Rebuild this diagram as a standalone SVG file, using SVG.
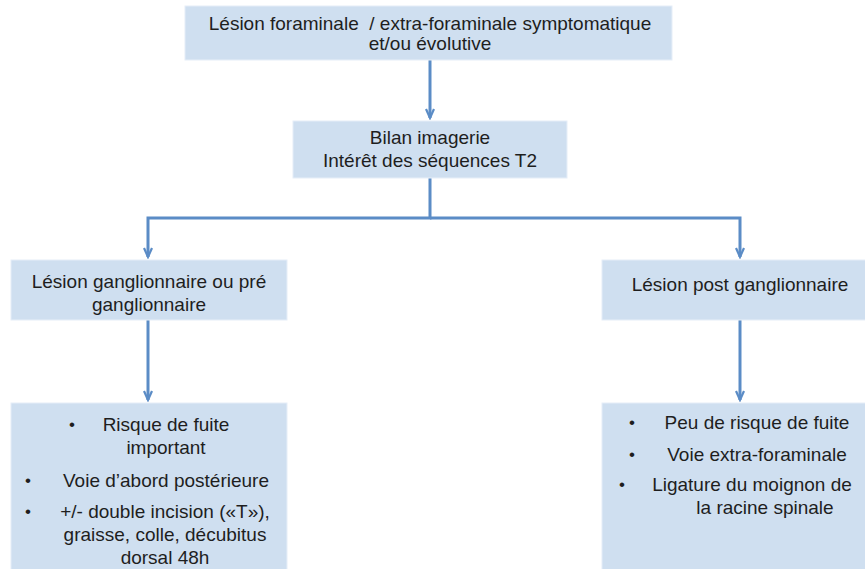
<svg xmlns="http://www.w3.org/2000/svg" width="865" height="569" viewBox="0 0 865 569">
<defs>
<style>
.box{fill:#cfdff0;stroke:#e6eef8;stroke-width:1}
.t{font-family:"Liberation Sans",Arial,sans-serif;font-size:19px;fill:#1e1e1e;text-anchor:middle;white-space:pre}
.b{font-family:"Liberation Sans",Arial,sans-serif;font-size:17px;fill:#1e1e1e;text-anchor:middle}
.c{fill:none;stroke:#5b8cc6;stroke-width:3}
</style>
<marker id="ah" viewBox="0 0 12 10" refX="10" refY="5" markerWidth="12" markerHeight="10" markerUnits="userSpaceOnUse" orient="auto">
<path d="M1,1 L10,5 L1,9" fill="none" stroke="#5b8cc6" stroke-width="2.2"/>
</marker>
</defs>
<rect width="865" height="569" fill="#ffffff"/>
<g id="connectors">
<path class="c" d="M430,60 V118" marker-end="url(#ah)"/>
<path class="c" d="M430,178 V218 H148 V257" marker-end="url(#ah)"/>
<path class="c" d="M430,218 H740 V257" marker-end="url(#ah)"/>
<path class="c" d="M148,320 V400" marker-end="url(#ah)"/>
<path class="c" d="M740,320 V400" marker-end="url(#ah)"/>
</g>
<g id="n1">
<rect class="box" x="185" y="6" width="487" height="54"/>
<text class="t" x="430" y="30">Lésion foraminale  / extra-foraminale symptomatique</text>
<text class="t" x="430" y="50">et/ou évolutive</text>
</g>
<g id="n2">
<rect class="box" x="293" y="121" width="274" height="57"/>
<text class="t" x="430" y="144">Bilan imagerie</text>
<text class="t" x="430" y="167">Intérêt des séquences T2</text>
</g>
<g id="n3">
<rect class="box" x="11" y="260" width="276" height="60"/>
<text class="t" x="149" y="288">Lésion ganglionnaire ou pré</text>
<text class="t" x="149" y="311">ganglionnaire</text>
</g>
<g id="n4">
<rect class="box" x="602" y="260" width="270" height="60"/>
<text class="t" x="740" y="291">Lésion post ganglionnaire</text>
</g>
<g id="n5">
<rect class="box" x="11" y="403" width="276" height="180"/>
<text class="b" x="72" y="430">•</text>
<text class="t" x="166" y="431">Risque de fuite</text>
<text class="t" x="166" y="454">important</text>
<text class="b" x="28" y="486">•</text>
<text class="t" x="166" y="487">Voie d’abord postérieure</text>
<text class="b" x="28" y="517">•</text>
<text class="t" x="165" y="518">+/- double incision («T»),</text>
<text class="t" x="165" y="541">graisse, colle, décubitus</text>
<text class="t" x="165" y="564">dorsal 48h</text>
</g>
<g id="n6">
<rect class="box" x="602" y="403" width="270" height="180"/>
<text class="b" x="632" y="428">•</text>
<text class="t" x="757" y="429">Peu de risque de fuite</text>
<text class="b" x="632" y="460">•</text>
<text class="t" x="757" y="461">Voie extra-foraminale</text>
<text class="b" x="622" y="490">•</text>
<text class="t" x="752" y="491">Ligature du moignon de</text>
<text class="t" x="765" y="514">la racine spinale</text>
</g>
</svg>
